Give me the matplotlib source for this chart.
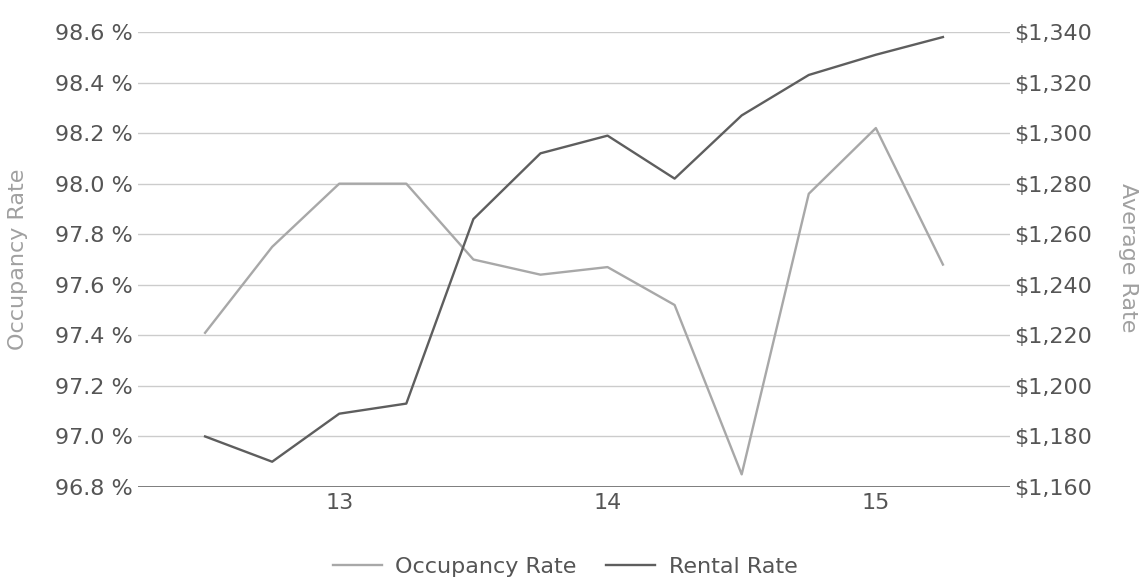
import matplotlib
matplotlib.use('Agg')
import matplotlib.pyplot as plt
from matplotlib.ticker import FuncFormatter, FixedLocator
import numpy as np

plt.rcParams['font.family'] = ['DejaVu Sans']

# quarterly readings, mid 2012 through mid 2015
quarters = ['2012 Q3', '2012 Q4', '2013 Q1', '2013 Q2', '2013 Q3', '2013 Q4',
            '2014 Q1', '2014 Q2', '2014 Q3', '2014 Q4', '2015 Q1', '2015 Q2']
occupancy = [97.41, 97.75, 98.00, 98.00, 97.70, 97.64,
             97.67, 97.52, 96.85, 97.96, 98.22, 97.68]
rental = [1180, 1170, 1189, 1193, 1266, 1292,
          1299, 1282, 1307, 1323, 1331, 1338]
year_ticks = [2, 6, 10]
year_labels = ['13', '14', '15']

text_color = '#555555'
title_color = '#a0a0a0'
occ_color = '#a8a8a8'
rent_color = '#5e5e5e'
fs = 16

x = np.arange(len(quarters))

W, H = 1141, 583
fig = plt.figure(figsize=(W / 100, H / 100), dpi=100)
ax = fig.add_axes([138 / W, 96 / H, 872 / W, 455 / H])
ax2 = ax.twinx()

l1, = ax.plot(x, occupancy, color=occ_color, lw=1.7, label='Occupancy Rate')
l2, = ax2.plot(x, rental, color=rent_color, lw=1.7, label='Rental Rate')

ax.set_xlim(-1, 12)
ax.set_ylim(96.8, 98.6)
ax2.set_ylim(1160, 1340)
ax.set_yticks(np.arange(96.8, 98.61, 0.2))
ax2.set_yticks(np.arange(1160, 1341, 20))
ax.yaxis.set_major_formatter(FuncFormatter(lambda v, p: f'{v:.1f} %'))
ax2.yaxis.set_major_formatter(FuncFormatter(lambda v, p: f'\\${v:,.0f}'))
ax.xaxis.set_major_locator(FixedLocator(year_ticks))
ax.set_xticklabels(year_labels)

for a in (ax, ax2):
    for s in a.spines.values():
        s.set_visible(False)
    a.tick_params(length=0, labelsize=fs, colors=text_color)
ax.tick_params(axis='y', pad=3.5)
ax2.tick_params(axis='y', pad=3)
ax.tick_params(axis='x', pad=4)

ax.grid(axis='y', color='#cccccc', lw=1)
ax.set_axisbelow(True)
ax.axhline(96.8, color='#5a5a5a', lw=1.8, zorder=1)

# axis titles
fig.text(18 / W, 1 - 259 / H, 'Occupancy Rate', rotation=90, fontsize=fs,
         color=title_color, ha='center', va='center')
fig.text(1128 / W, 1 - 258 / H, 'Average Rate', rotation=-90, fontsize=fs,
         color=title_color, ha='center', va='center')

fig.legend(handles=[l1, l2], loc='center', ncol=2, frameon=False,
           fontsize=fs, handlelength=2.2, handletextpad=0.6,
           columnspacing=1.35, bbox_to_anchor=(565 / W, 1 - 567 / H),
           labelcolor=text_color)

fig.savefig('out.png', dpi=100)
